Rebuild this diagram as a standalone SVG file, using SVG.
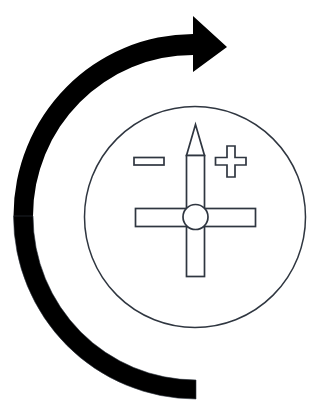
<svg xmlns="http://www.w3.org/2000/svg" width="334" height="405" viewBox="0 0 334 405">
<style>
.o{fill:#fff;stroke:#2f3640;stroke-width:1.7}
.k{fill:#000;stroke:#2f3640;stroke-width:.6}
</style>
<rect width="334" height="405" fill="#fff"/>
<g id="rotation-arrow">
<path d="M13.500 216A180 182 0 0 1 193 34L193 16L227 47L193 72L193 55A160 161 0 0 0 33 216Z" fill="#000"/>
<path class="k" d="M13.500 216L33 216A163 164 0 0 0 196 380L196 399A182.500 183 0 0 1 13.500 216Z"/>
</g>
<g id="dial">
<circle cx="195" cy="217" r="110.500" fill="#fff" stroke="#2f3640" stroke-width="1.500"/>
<path class="o" d="M186.500 155.500L195.500 124.500L204.500 155.500Z"/>
<rect class="o" x="186.500" y="155.500" width="18" height="121"/>
<rect class="o" x="135.500" y="208.500" width="120" height="18"/>
<circle class="o" cx="195.500" cy="217" r="12.500"/>
<rect class="o" x="134" y="157.500" width="30" height="7.500"/>
<path class="o" d="M227 146L235 146L235 157.500L246 157.500L246 165L235 165L235 177L227 177L227 165L215.500 165L215.500 157.500L227 157.500Z"/>
</g>
</svg>
